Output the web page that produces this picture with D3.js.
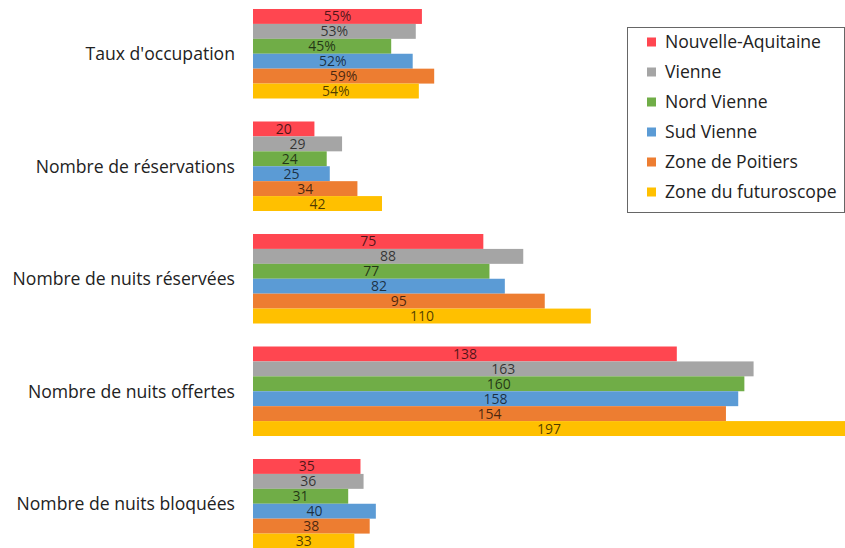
<!DOCTYPE html>
<html>
<head>
<meta charset="utf-8">
<script src="https://cdn.jsdelivr.net/npm/d3@7"></script>
<style>
  body { margin: 0; background: #fff; }
  svg { display: block; font-family: "Open Sans", sans-serif; }
</style>
</head>
<body>
<div id="chart"></div>
<script>
"use strict";

// categories (top to bottom)
var categories = ["Taux d'occupation", "Nombre de réservations", "Nombre de nuits réservées",
    "Nombre de nuits offertes", "Nombre de nuits bloquées"];

// series names and colours
var seriesNames = ["Nouvelle-Aquitaine", "Vienne", "Nord Vienne", "Sud Vienne",
    "Zone de Poitiers", "Zone du futuroscope"];
var seriesColors = ["#FF4650", "#A5A5A5", "#70AD47", "#5B9BD5", "#ED7D31", "#FFC000"];

// values per series, in category order
var nouvelleAquitaine = [55, 20, 75, 138, 35];
var vienne = [53, 29, 88, 163, 36];
var nordVienne = [45, 24, 77, 160, 31];
var sudVienne = [52, 25, 82, 158, 40];
var zonePoitiers = [59, 34, 95, 154, 38];
var zoneFuturoscope = [54, 42, 110, 197, 33];

var seriesValues = [nouvelleAquitaine, vienne, nordVienne, sudVienne, zonePoitiers, zoneFuturoscope];

var width = 845, height = 548;

var svg = d3.select("#chart").append("svg")
    .attr("width", width)
    .attr("height", height);

// flat table built from the arrays
var rows = [];
categories.forEach(function (c, ci) {
    seriesNames.forEach(function (s, si) {
        rows.push({ cat: c, ci: ci, series: s, si: si, value: seriesValues[si][ci] });
    });
});

// scales
var x = d3.scaleLinear().domain([0, 197]).range([253, 858]);
var y = d3.scaleBand().domain(categories).range([-14, 571.5]).padding(0.2044);
var ySub = d3.scaleBand().domain(seriesNames).range([0, y.bandwidth()]).padding(0);

// bars
var groups = svg.selectAll("g.group")
    .data(categories)
    .enter().append("g")
    .attr("class", "group")
    .attr("transform", function (d) { return "translate(0," + y(d) + ")"; });

groups.selectAll("rect")
    .data(function (c) { return rows.filter(function (r) { return r.cat === c; }); })
    .enter().append("rect")
    .attr("x", x(0))
    .attr("y", function (d) { return ySub(d.series); })
    .attr("width", function (d) { return x(d.value) - x(0); })
    .attr("height", ySub.bandwidth())
    .attr("fill", function (d) { return seriesColors[d.si]; });

// value labels
groups.selectAll("text.val")
    .data(function (c) { return rows.filter(function (r) { return r.cat === c; }); })
    .enter().append("text")
    .attr("class", "val")
    .attr("x", function (d) { return (x(0) + Math.min(x(d.value), width)) / 2; })
    .attr("y", function (d) { return ySub(d.series) + ySub.bandwidth() / 2; })
    .attr("dy", "0.36em")
    .attr("text-anchor", "middle")
    .style("font-size", "14px")
    .style("fill", "#000")
    .style("fill-opacity", 0.7)
    .text(function (d) { return d.ci === 0 ? d.value + "%" : d.value; });

// category labels
svg.selectAll("text.cat")
    .data(categories)
    .enter().append("text")
    .attr("class", "cat")
    .attr("x", 235)
    .attr("y", function (d) { return y(d) + y.bandwidth() / 2; })
    .attr("dy", "0.36em")
    .attr("text-anchor", "end")
    .style("font-size", "17.6px")
    .style("fill", "#222")
    .text(function (d) { return d; });

// legend
var legend = svg.append("g").attr("transform", "translate(627,27)");
legend.append("rect")
    .attr("x", 0.5).attr("y", 0.5)
    .attr("width", 217).attr("height", 185)
    .attr("fill", "#fff")
    .attr("stroke", "#666");

var item = legend.selectAll("g.item")
    .data(seriesNames)
    .enter().append("g")
    .attr("class", "item")
    .attr("transform", function (d, i) { return "translate(20," + (15 + i * 30) + ")"; });

item.append("rect")
    .attr("x", 0).attr("y", -4.5)
    .attr("width", 9).attr("height", 9)
    .attr("fill", function (d, i) { return seriesColors[i]; });

item.append("text")
    .attr("x", 18)
    .attr("dy", "0.36em")
    .style("font-size", "17.6px")
    .style("fill", "#222")
    .text(function (d) { return d; });
</script>
</body>
</html>
